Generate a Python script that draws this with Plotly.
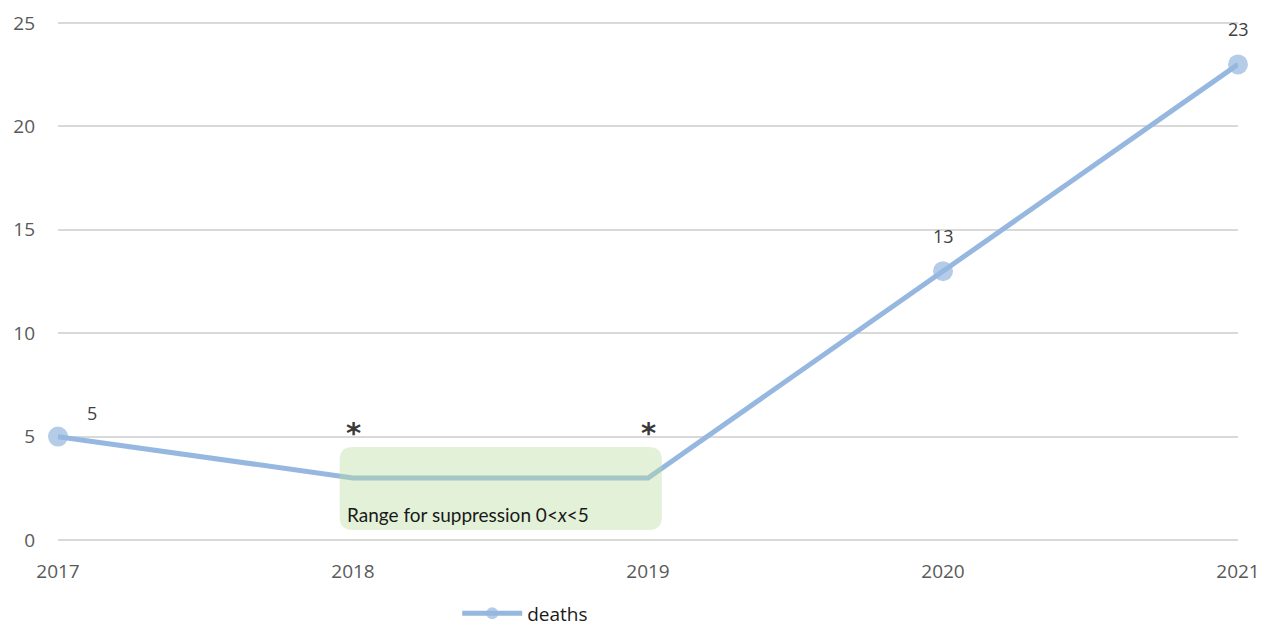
import plotly.graph_objects as go

# Annual deaths; 2018 and 2019 are suppressed counts (0 < x < 5)
years = [2017, 2018, 2019, 2020, 2021]
deaths = [5, 3, 3, 13, 23]
suppressed = [False, True, True, False, False]
y_ticks = [0, 5, 10, 15, 20, 25]

LINE = "#95B7E0"
GRID = "#D9D9D9"
TXT = "#595959"
FONT = "Open Sans"

labels = ["<b>*</b>" if s else str(v) for v, s in zip(deaths, suppressed)]
marker_sizes = [0 if s else 20 for s in suppressed]

fig = go.Figure()
fig.add_trace(go.Scatter(
    x=years, y=deaths, mode="lines+markers", name="deaths",
    line=dict(color=LINE, width=5),
    marker=dict(color=LINE, size=marker_sizes, line=dict(width=0)),
    cliponaxis=False, showlegend=True,
))

# data labels
for x, v, s, t in zip(years, deaths, suppressed, labels):
    if s:
        fig.add_annotation(x=x, y=v, text=t, showarrow=False, yshift=45,
                           font=dict(family="DejaVu Sans", size=29, color="#3a3a3a"))
    elif x == years[0]:
        fig.add_annotation(x=x, y=v, text=t, showarrow=False, xshift=34, yshift=24,
                           font=dict(family=FONT, size=18, color="#404040"))
    else:
        fig.add_annotation(x=x, y=v, text=t, showarrow=False, yshift=35,
                           font=dict(family=FONT, size=18, color="#404040"))

# rounded box marking the suppression range
x0, x1, y0, y1 = 2017.955, 2019.047, 0.48, 4.5
rx, ry = 0.045, 0.62
path = (f"M {x0+rx},{y0} L {x1-rx},{y0} Q {x1},{y0} {x1},{y0+ry} "
        f"L {x1},{y1-ry} Q {x1},{y1} {x1-rx},{y1} "
        f"L {x0+rx},{y1} Q {x0},{y1} {x0},{y1-ry} "
        f"L {x0},{y0+ry} Q {x0},{y0} {x0+rx},{y0} Z")
fig.add_shape(type="path", path=path, xref="x", yref="y", layer="above",
              fillcolor="rgba(185,220,160,0.4)", line=dict(width=0))
fig.add_annotation(x=x0, y=y0, xref="x", yref="y", xanchor="left", yanchor="bottom",
                   xshift=5, yshift=2, showarrow=False,
                   text="Range for suppression 0&lt;<i>x</i>&lt;5",
                   font=dict(family="Lato", size=19, color="#1a1a1a"))

fig.update_layout(
    width=1263, height=626,
    margin=dict(l=58, r=25, t=22, b=86, autoexpand=False),
    paper_bgcolor="white", plot_bgcolor="white",
    font=dict(family=FONT, size=19, color=TXT),
    xaxis=dict(range=[2017, 2021], tickmode="array", tickvals=years,
               ticktext=[str(y) for y in years], showgrid=False, zeroline=False,
               showline=False, ticks="", ticklabelstandoff=18, automargin=False,
               tickfont=dict(size=19, color=TXT)),
    yaxis=dict(range=[0, 25.05], tickmode="array", tickvals=y_ticks,
               showgrid=True, gridcolor=GRID, gridwidth=1.5,
               zeroline=True, zerolinecolor=GRID, zerolinewidth=1.5,
               showline=False, ticks="", ticklabelstandoff=22, automargin=False,
               tickfont=dict(size=19, color=TXT)),
    legend=dict(orientation="h", xref="container", yref="container",
                x=0.362, xanchor="left", y=0.02, yanchor="middle",
                font=dict(size=19, color="#1a1a1a"), itemwidth=60,
                bgcolor="rgba(0,0,0,0)"),
    showlegend=True,
)

fig.write_html("out.html")
